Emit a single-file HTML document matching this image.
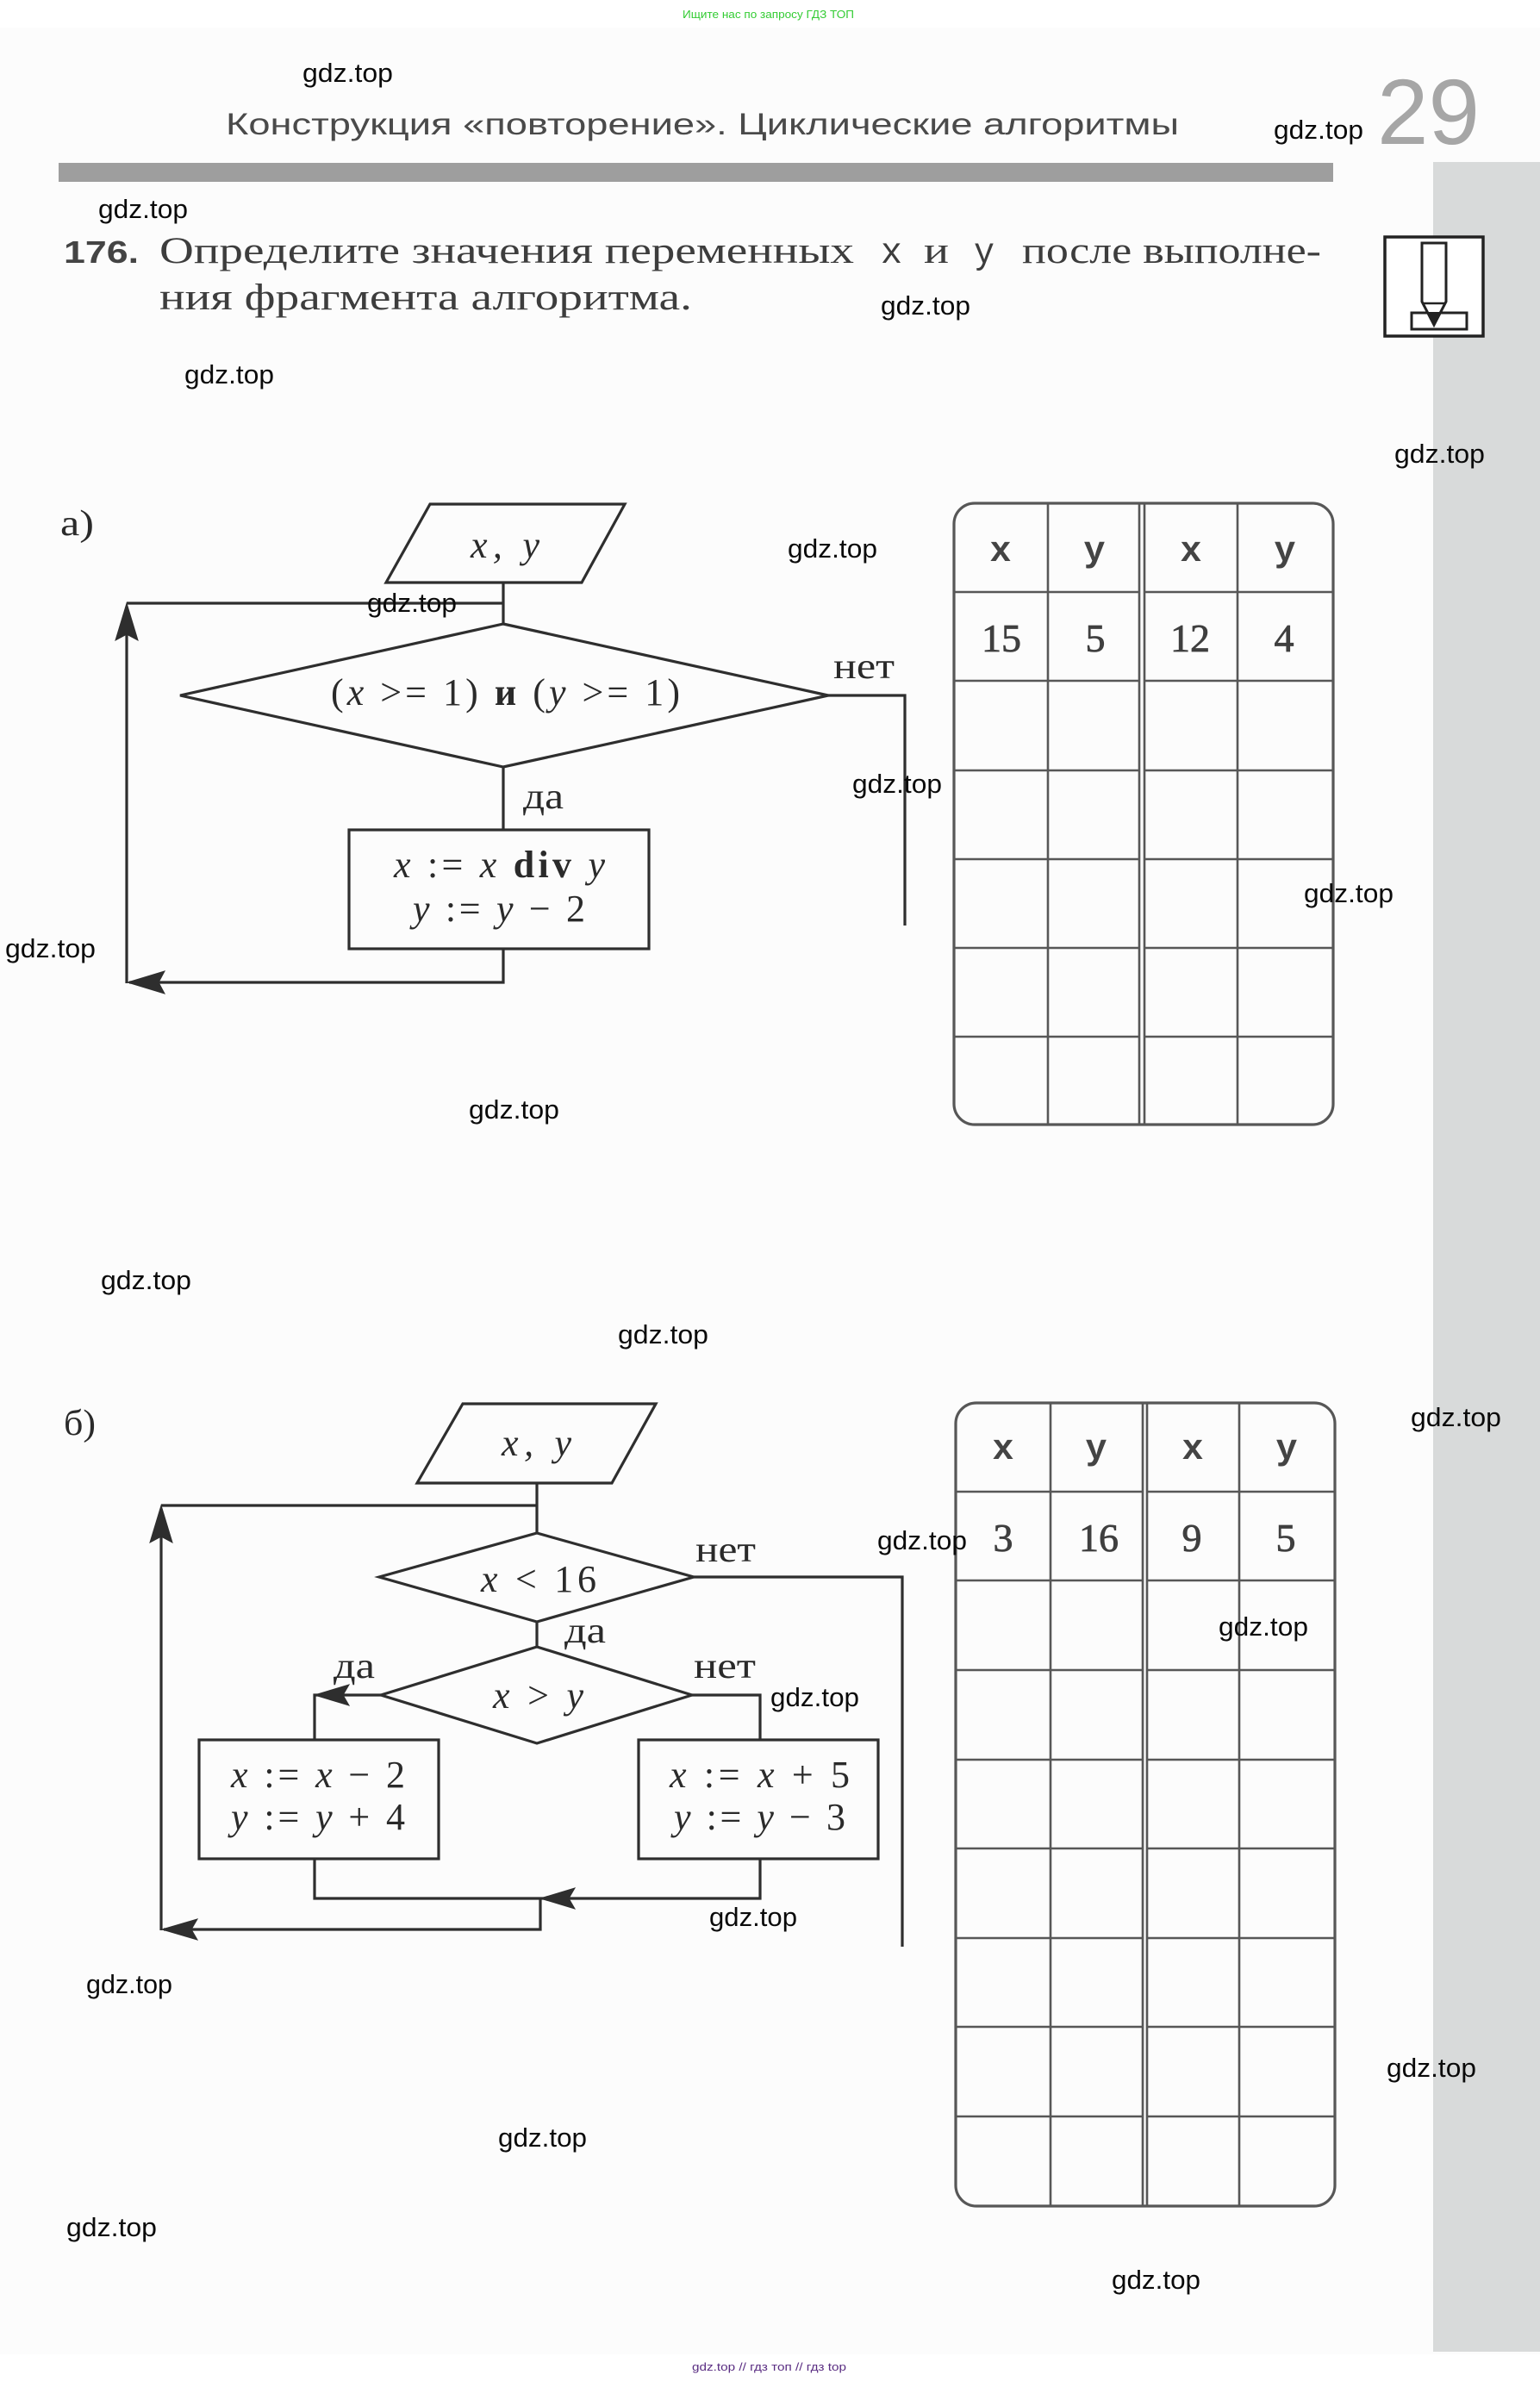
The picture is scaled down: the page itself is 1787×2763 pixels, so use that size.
<!DOCTYPE html>
<html>
<head>
<meta charset="utf-8">
<style>
html,body{margin:0;padding:0;background:#ffffff;}
svg{display:block;}
.wm{font-family:"Liberation Sans",sans-serif;font-size:31px;fill:#0a0a0a;}
.m{font-family:"Liberation Serif","DejaVu Serif",serif;fill:#2a2a2a;}
.t{font-family:"Liberation Serif","DejaVu Serif",serif;fill:#3d3d3d;}
.fl{fill:none;stroke:#2e2e2e;stroke-width:3.2;stroke-linejoin:miter;}
.ah{fill:#2e2e2e;stroke:#2e2e2e;stroke-width:1;}
.tb{fill:none;stroke:#575757;stroke-width:2.6;}
.tbo{fill:none;stroke:#575757;stroke-width:3.2;}
.hd{font-family:"Liberation Mono","DejaVu Sans Mono",monospace;font-weight:bold;font-size:42px;fill:#444;}
.dv{font-family:"Liberation Serif","DejaVu Serif",serif;font-size:46px;fill:#3f3f3f;stroke:#3f3f3f;stroke-width:0.8;}
</style>
</head>
<body>
<svg width="1787" height="2763" viewBox="0 0 1787 2763" xmlns="http://www.w3.org/2000/svg">
<rect x="0" y="0" width="1787" height="2763" fill="#ffffff"/>
<rect x="0" y="32" width="1787" height="2700" fill="#fcfcfc"/>

<!-- top green text -->
<text x="792" y="21" font-family="Liberation Sans, sans-serif" font-size="13" fill="#33cc33" textLength="199" lengthAdjust="spacingAndGlyphs">Ищите нас по запросу ГДЗ ТОП</text>

<!-- heading -->
<text x="262" y="156" font-family="Liberation Sans, sans-serif" font-size="35" fill="#4a4a4a" textLength="1106" lengthAdjust="spacingAndGlyphs">Конструкция «повторение». Циклические алгоритмы</text>
<text x="1598" y="167" font-family="Liberation Sans, sans-serif" font-size="108" fill="#a6a6a6" textLength="119" lengthAdjust="spacingAndGlyphs">29</text>

<!-- gray bar -->
<rect x="68" y="189" width="1479" height="22" fill="#9e9e9e"/>
<!-- right strip -->
<rect x="1663" y="188" width="124" height="2541" fill="#d8dada"/>

<!-- icon -->
<rect x="1607" y="275" width="114" height="115" fill="#ffffff" stroke="#222" stroke-width="3.5"/>
<rect x="1638" y="363" width="64" height="19" fill="#ffffff" stroke="#222" stroke-width="3"/>
<path d="M1650,282 L1678,282 L1678,350 L1664,377 L1650,350 Z" fill="#ffffff" stroke="#222" stroke-width="3"/>
<line x1="1650" y1="352" x2="1678" y2="352" stroke="#222" stroke-width="2.5"/>
<polygon points="1656,362 1672,362 1664,377" fill="#222"/>

<!-- task text -->
<text x="74" y="305" font-family="Liberation Sans, sans-serif" font-weight="bold" font-size="36" fill="#444" textLength="87" lengthAdjust="spacingAndGlyphs">176.</text>
<text class="t" x="185" y="305" font-size="43" textLength="806" lengthAdjust="spacingAndGlyphs">Определите значения переменных</text>
<text x="1022" y="305" font-family="Liberation Mono, monospace" font-size="43" fill="#3d3d3d" textLength="25" lengthAdjust="spacingAndGlyphs">x</text>
<text class="t" x="1072" y="305" font-size="43" textLength="29" lengthAdjust="spacingAndGlyphs">и</text>
<text x="1130" y="305" font-family="Liberation Mono, monospace" font-size="43" fill="#3d3d3d" textLength="24" lengthAdjust="spacingAndGlyphs">y</text>
<text class="t" x="1186" y="305" font-size="43" textLength="347" lengthAdjust="spacingAndGlyphs">после выполне-</text>
<text class="t" x="185" y="359" font-size="43" textLength="618" lengthAdjust="spacingAndGlyphs">ния фрагмента алгоритма.</text>

<!-- ===== Flowchart a ===== -->
<text class="m" x="70" y="621" font-size="42" textLength="39" lengthAdjust="spacingAndGlyphs">а)</text>
<polygon class="fl" points="499,585 725,585 675,676 448,676"/>
<text class="m" x="546" y="647" font-size="44" font-style="italic" textLength="80" lengthAdjust="spacing">x, y</text>
<polyline class="fl" points="584,676 584,724"/>
<polyline class="fl" points="147,700 584,700"/>
<polygon class="fl" points="584,724 961,807 584,890 209,807"/>
<text class="m" x="384" y="818" font-size="44" textLength="405" lengthAdjust="spacing">(<tspan font-style="italic">x</tspan> &gt;= 1) <tspan font-weight="bold">и</tspan> (<tspan font-style="italic">y</tspan> &gt;= 1)</text>
<polyline class="fl" points="961,807 1050,807 1050,1074"/>
<text class="m" x="967" y="787" font-size="42" textLength="71" lengthAdjust="spacingAndGlyphs">нет</text>
<polyline class="fl" points="584,890 584,963"/>
<text class="m" x="607" y="938" font-size="42" textLength="47" lengthAdjust="spacingAndGlyphs">да</text>
<rect class="fl" x="405" y="963" width="348" height="138"/>
<text class="m" x="457" y="1018" font-size="44" textLength="245" lengthAdjust="spacing"><tspan font-style="italic">x</tspan> := <tspan font-style="italic">x</tspan> <tspan font-weight="bold">div</tspan> <tspan font-style="italic">y</tspan></text>
<text class="m" x="479" y="1069" font-size="44" textLength="200" lengthAdjust="spacing"><tspan font-style="italic">y</tspan> := <tspan font-style="italic">y</tspan> − 2</text>
<polyline class="fl" points="584,1101 584,1140 150,1140"/>
<polyline class="fl" points="147,1141 147,704"/>
<polygon class="ah" points="147,700 134,743 147,736 160,743"/>
<polygon class="ah" points="148,1140 191,1127 184,1140 191,1153"/>

<!-- Table a -->
<rect class="tbo" x="1107" y="584" width="440" height="721" rx="24" ry="24"/>
<g class="tb">
<line x1="1216" y1="584" x2="1216" y2="1305"/>
<line x1="1322" y1="584" x2="1322" y2="1305"/>
<line x1="1328" y1="584" x2="1328" y2="1305"/>
<line x1="1436" y1="584" x2="1436" y2="1305"/>
<line x1="1107" y1="687" x2="1322" y2="687"/><line x1="1328" y1="687" x2="1547" y2="687"/>
<line x1="1107" y1="790" x2="1322" y2="790"/><line x1="1328" y1="790" x2="1547" y2="790"/>
<line x1="1107" y1="894" x2="1322" y2="894"/><line x1="1328" y1="894" x2="1547" y2="894"/>
<line x1="1107" y1="997" x2="1322" y2="997"/><line x1="1328" y1="997" x2="1547" y2="997"/>
<line x1="1107" y1="1100" x2="1322" y2="1100"/><line x1="1328" y1="1100" x2="1547" y2="1100"/>
<line x1="1107" y1="1203" x2="1322" y2="1203"/><line x1="1328" y1="1203" x2="1547" y2="1203"/>
</g>
<text class="hd" x="1161" y="651" text-anchor="middle">x</text>
<text class="hd" x="1270" y="651" text-anchor="middle">y</text>
<text class="hd" x="1382" y="651" text-anchor="middle">x</text>
<text class="hd" x="1491" y="651" text-anchor="middle">y</text>
<text class="dv" x="1162" y="756" text-anchor="middle">15</text>
<text class="dv" x="1271" y="756" text-anchor="middle">5</text>
<text class="dv" x="1381" y="756" text-anchor="middle">12</text>
<text class="dv" x="1490" y="756" text-anchor="middle">4</text>

<!-- ===== Flowchart b ===== -->
<text class="m" x="74" y="1665" font-size="42" textLength="37" lengthAdjust="spacingAndGlyphs">б)</text>
<polygon class="fl" points="537,1629 761,1629 710,1721 484,1721"/>
<text class="m" x="582" y="1689" font-size="44" font-style="italic" textLength="81" lengthAdjust="spacing">x, y</text>
<polyline class="fl" points="623,1721 623,1779"/>
<polyline class="fl" points="187,1747 623,1747"/>
<polygon class="fl" points="623,1779 805,1830 623,1882 440,1830"/>
<text class="m" x="558" y="1847" font-size="44" textLength="134" lengthAdjust="spacing"><tspan font-style="italic">x</tspan> &lt; 16</text>
<polyline class="fl" points="805,1830 1047,1830 1047,2259"/>
<text class="m" x="807" y="1812" font-size="42" textLength="70" lengthAdjust="spacingAndGlyphs">нет</text>
<polyline class="fl" points="623,1882 623,1911"/>
<text class="m" x="655" y="1906" font-size="42" textLength="48" lengthAdjust="spacingAndGlyphs">да</text>
<polygon class="fl" points="623,1911 803,1967 623,2023 442,1967"/>
<text class="m" x="572" y="1982" font-size="44" textLength="105" lengthAdjust="spacing"><tspan font-style="italic">x</tspan> &gt; <tspan font-style="italic">y</tspan></text>
<text class="m" x="387" y="1947" font-size="42" textLength="48" lengthAdjust="spacingAndGlyphs">да</text>
<text class="m" x="805" y="1947" font-size="42" textLength="72" lengthAdjust="spacingAndGlyphs">нет</text>
<polyline class="fl" points="442,1967 365,1967 365,2019"/>
<polyline class="fl" points="803,1967 882,1967 882,2019"/>
<rect class="fl" x="231" y="2019" width="278" height="138"/>
<rect class="fl" x="741" y="2019" width="278" height="138"/>
<text class="m" x="268" y="2074" font-size="44" textLength="202" lengthAdjust="spacing"><tspan font-style="italic">x</tspan> := <tspan font-style="italic">x</tspan> − 2</text>
<text class="m" x="268" y="2123" font-size="44" textLength="202" lengthAdjust="spacing"><tspan font-style="italic">y</tspan> := <tspan font-style="italic">y</tspan> + 4</text>
<text class="m" x="777" y="2074" font-size="44" textLength="209" lengthAdjust="spacing"><tspan font-style="italic">x</tspan> := <tspan font-style="italic">x</tspan> + 5</text>
<text class="m" x="782" y="2123" font-size="44" textLength="199" lengthAdjust="spacing"><tspan font-style="italic">y</tspan> := <tspan font-style="italic">y</tspan> − 3</text>
<polyline class="fl" points="365,2157 365,2203 882,2203 882,2157"/>
<polyline class="fl" points="627,2203 627,2239 190,2239"/>
<polyline class="fl" points="187,2240 187,1751"/>
<polygon class="ah" points="187,1747 174,1790 187,1783 200,1790"/>
<polygon class="ah" points="365,1967 405,1955 398,1967 405,1979"/>
<polygon class="ah" points="627,2203 667,2191 660,2203 667,2215"/>
<polygon class="ah" points="188,2239 229,2227 222,2239 229,2251"/>

<!-- Table b -->
<rect class="tbo" x="1109" y="1628" width="440" height="932" rx="24" ry="24"/>
<g class="tb">
<line x1="1219" y1="1628" x2="1219" y2="2560"/>
<line x1="1326" y1="1628" x2="1326" y2="2560"/>
<line x1="1331" y1="1628" x2="1331" y2="2560"/>
<line x1="1438" y1="1628" x2="1438" y2="2560"/>
<line x1="1109" y1="1731" x2="1326" y2="1731"/><line x1="1331" y1="1731" x2="1549" y2="1731"/>
<line x1="1109" y1="1834" x2="1326" y2="1834"/><line x1="1331" y1="1834" x2="1549" y2="1834"/>
<line x1="1109" y1="1938" x2="1326" y2="1938"/><line x1="1331" y1="1938" x2="1549" y2="1938"/>
<line x1="1109" y1="2042" x2="1326" y2="2042"/><line x1="1331" y1="2042" x2="1549" y2="2042"/>
<line x1="1109" y1="2145" x2="1326" y2="2145"/><line x1="1331" y1="2145" x2="1549" y2="2145"/>
<line x1="1109" y1="2249" x2="1326" y2="2249"/><line x1="1331" y1="2249" x2="1549" y2="2249"/>
<line x1="1109" y1="2352" x2="1326" y2="2352"/><line x1="1331" y1="2352" x2="1549" y2="2352"/>
<line x1="1109" y1="2456" x2="1326" y2="2456"/><line x1="1331" y1="2456" x2="1549" y2="2456"/>
</g>
<text class="hd" x="1164" y="1693" text-anchor="middle">x</text>
<text class="hd" x="1272" y="1693" text-anchor="middle">y</text>
<text class="hd" x="1384" y="1693" text-anchor="middle">x</text>
<text class="hd" x="1493" y="1693" text-anchor="middle">y</text>
<text class="dv" x="1164" y="1800" text-anchor="middle">3</text>
<text class="dv" x="1275" y="1800" text-anchor="middle">16</text>
<text class="dv" x="1383" y="1800" text-anchor="middle">9</text>
<text class="dv" x="1492" y="1800" text-anchor="middle">5</text>

<!-- watermarks -->
<text class="wm" x="351" y="95" textLength="105" lengthAdjust="spacingAndGlyphs">gdz.top</text>
<text class="wm" x="1478" y="161" textLength="104" lengthAdjust="spacingAndGlyphs">gdz.top</text>
<text class="wm" x="114" y="253" textLength="104" lengthAdjust="spacingAndGlyphs">gdz.top</text>
<text class="wm" x="1022" y="365" textLength="104" lengthAdjust="spacingAndGlyphs">gdz.top</text>
<text class="wm" x="214" y="445" textLength="104" lengthAdjust="spacingAndGlyphs">gdz.top</text>
<text class="wm" x="1618" y="537" textLength="105" lengthAdjust="spacingAndGlyphs">gdz.top</text>
<text class="wm" x="914" y="647" textLength="104" lengthAdjust="spacingAndGlyphs">gdz.top</text>
<text class="wm" x="426" y="710" textLength="104" lengthAdjust="spacingAndGlyphs">gdz.top</text>
<text class="wm" x="989" y="920" textLength="104" lengthAdjust="spacingAndGlyphs">gdz.top</text>
<text class="wm" x="1513" y="1047" textLength="104" lengthAdjust="spacingAndGlyphs">gdz.top</text>
<text class="wm" x="6" y="1111" textLength="105" lengthAdjust="spacingAndGlyphs">gdz.top</text>
<text class="wm" x="544" y="1298" textLength="105" lengthAdjust="spacingAndGlyphs">gdz.top</text>
<text class="wm" x="117" y="1496" textLength="105" lengthAdjust="spacingAndGlyphs">gdz.top</text>
<text class="wm" x="717" y="1559" textLength="105" lengthAdjust="spacingAndGlyphs">gdz.top</text>
<text class="wm" x="1637" y="1655" textLength="105" lengthAdjust="spacingAndGlyphs">gdz.top</text>
<text class="wm" x="1018" y="1798" textLength="104" lengthAdjust="spacingAndGlyphs">gdz.top</text>
<text class="wm" x="1414" y="1898" textLength="104" lengthAdjust="spacingAndGlyphs">gdz.top</text>
<text class="wm" x="894" y="1980" textLength="103" lengthAdjust="spacingAndGlyphs">gdz.top</text>
<text class="wm" x="823" y="2235" textLength="102" lengthAdjust="spacingAndGlyphs">gdz.top</text>
<text class="wm" x="100" y="2313" textLength="100" lengthAdjust="spacingAndGlyphs">gdz.top</text>
<text class="wm" x="1609" y="2410" textLength="104" lengthAdjust="spacingAndGlyphs">gdz.top</text>
<text class="wm" x="578" y="2491" textLength="103" lengthAdjust="spacingAndGlyphs">gdz.top</text>
<text class="wm" x="77" y="2595" textLength="105" lengthAdjust="spacingAndGlyphs">gdz.top</text>
<text class="wm" x="1290" y="2656" textLength="103" lengthAdjust="spacingAndGlyphs">gdz.top</text>

<!-- footer -->
<rect x="0" y="2732" width="1787" height="31" fill="#ffffff"/>
<text x="803" y="2751" font-family="Liberation Sans, sans-serif" font-size="13" fill="#5a2d82" textLength="179" lengthAdjust="spacingAndGlyphs">gdz.top // гдз топ // гдз top</text>
</svg>
</body>
</html>
